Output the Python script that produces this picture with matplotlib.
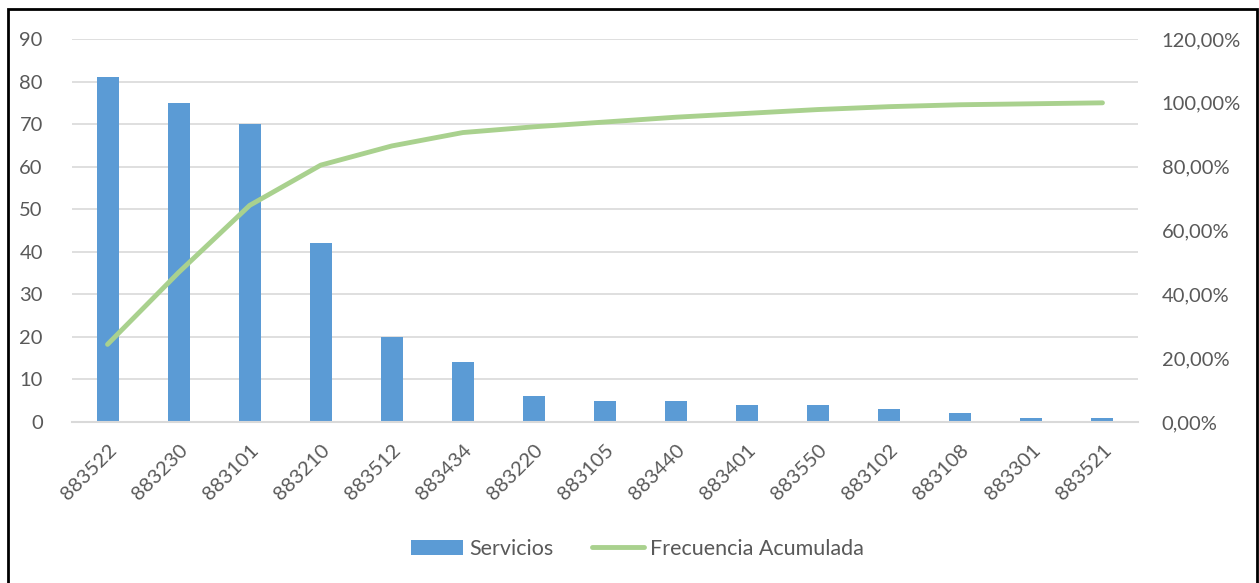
import matplotlib.pyplot as plt
from matplotlib.ticker import FuncFormatter, MultipleLocator
from matplotlib.patches import Rectangle

plt.rcParams['font.family'] = ['Lato', 'DejaVu Sans']

codigos = ["883522", "883230", "883101", "883210", "883512", "883434", "883220",
           "883105", "883440", "883401", "883550", "883102", "883108", "883301", "883521"]
servicios = [81, 75, 70, 42, 20, 14, 6, 5, 5, 4, 4, 3, 2, 1, 1]
frec_acum = [24.32, 46.85, 67.87, 80.48, 86.49, 90.69, 92.49, 93.99, 95.50,
             96.70, 97.90, 98.80, 99.40, 99.70, 100.00]

bar_color = '#5B9BD5'
line_color = '#A9D18E'
text_color = '#595959'
grid_color = '#D9D9D9'

fig = plt.figure(figsize=(12.59, 5.83), dpi=100)
ax = fig.add_axes([72 / 1259, 1 - 422 / 583, (1138 - 72) / 1259, (422 - 39) / 583])

x = list(range(len(codigos)))
ax.bar(x, servicios, width=0.31, color=bar_color, label='Servicios', zorder=2)
ax.set_xlim(-0.5, len(codigos) - 0.5)
ax.set_ylim(0, 90)
ax.yaxis.set_major_locator(MultipleLocator(10))
ax.grid(axis='y', color=grid_color, linewidth=1.2, zorder=0)
ax.set_axisbelow(True)
for s in ['top', 'right', 'left']:
    ax.spines[s].set_visible(False)
ax.spines['bottom'].set_color(grid_color)
ax.spines['bottom'].set_linewidth(1.5)
ax.set_xticks(x)
ax.set_xticklabels(codigos, rotation=45, ha='right', rotation_mode='anchor')
ax.tick_params(axis='both', length=0, labelsize=14.5, labelcolor=text_color)
ax.tick_params(axis='x', pad=14)
ax.tick_params(axis='y', pad=21)

ax2 = ax.twinx()
ax2.plot(x, frec_acum, color=line_color, linewidth=3.5, solid_capstyle='round',
         label='Frecuencia Acumulada', zorder=3)
ax2.set_ylim(0, 120)
ax2.yaxis.set_major_locator(MultipleLocator(20))
ax2.yaxis.set_major_formatter(FuncFormatter(lambda v, p: "{:.2f}%".format(v).replace('.', ',')))
for s in ax2.spines.values():
    s.set_visible(False)
ax2.tick_params(axis='y', length=0, labelsize=14.5, labelcolor=text_color, pad=17)

h1, l1 = ax.get_legend_handles_labels()
h2, l2 = ax2.get_legend_handles_labels()
fig.legend(h1 + h2, l1 + l2, loc='center', bbox_to_anchor=(0.5 + 8 / 1259, 1 - 549 / 583), ncol=2,
           frameon=False, fontsize=15.5, labelcolor=text_color, handlelength=2.4,
           columnspacing=1.8, handletextpad=0.3)

fig.patches.append(Rectangle((8 / 1259, -0.01), 1249 / 1259, 1 - 9 / 583 + 0.01,
                             transform=fig.transFigure, fill=False,
                             edgecolor='black', linewidth=2))

fig.savefig('out.png', dpi=100)
